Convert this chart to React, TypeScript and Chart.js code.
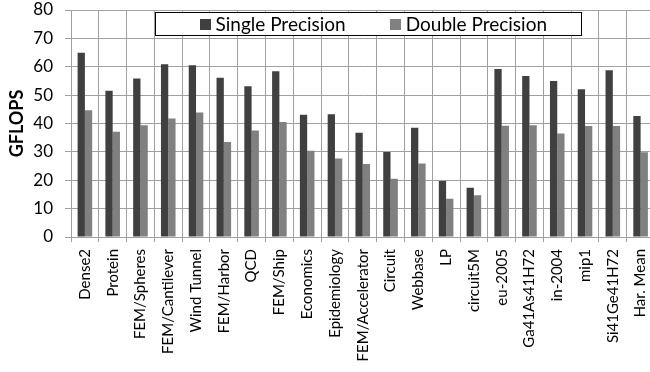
import React, { useEffect, useRef } from "react";
import { Chart, registerables } from "chart.js";

Chart.register(...registerables);

const categories = [
  "Dense2", "Protein", "FEM/Spheres", "FEM/Cantilever", "Wind Tunnel", "FEM/Harbor",
  "QCD", "FEM/Ship", "Economics", "Epidemiology", "FEM/Accelerator", "Circuit",
  "Webbase", "LP", "circuit5M", "eu-2005", "Ga41As41H72", "in-2004", "mip1",
  "Si41Ge41H72", "Har. Mean",
];

const singlePrecision = [
  64.9, 51.5, 55.9, 60.9, 60.5, 56.1, 53.1, 58.4, 43.1, 43.3, 36.7, 30.0,
  38.5, 19.7, 17.4, 59.2, 56.7, 55.0, 52.1, 58.8, 42.6,
];

const doublePrecision = [
  44.7, 37.1, 39.4, 41.8, 43.9, 33.5, 37.5, 40.5, 30.4, 27.7, 25.7, 20.5,
  25.9, 13.5, 14.7, 39.2, 39.4, 36.5, 39.1, 39.1, 29.9,
];

const seriesNames = ["Single Precision", "Double Precision"];
const seriesColors = ["#404040", "#808080"];

const yMin = 0;
const yMax = 80;
const yStep = 10;
const yTitle = "GFLOPS";

const FONT = "Lato";
const GRID = "#a0a0a0";

const boxLegend = {
  id: "boxLegend",
  afterDraw(chart: any) {
    const { ctx, chartArea } = chart;
    ctx.save();
    ctx.font = `19px ${FONT}`;
    const items = chart.data.datasets.map((ds: any) => ({
      label: ds.label,
      color: ds.backgroundColor,
      w: ctx.measureText(ds.label).width,
    }));
    const sq = 11, gap = 5, itemGap = 44, padL = 44, padR = 34, h = 23;
    const contentW =
      items.reduce((s: number, it: any) => s + sq + gap + it.w, 0) +
      itemGap * (items.length - 1);
    const boxW = Math.round(padL + contentW + padR);
    const left = Math.round(chartArea.left + 84) + 0.5;
    const top = Math.round(chartArea.top + 2) + 0.5;
    ctx.fillStyle = "#ffffff";
    ctx.fillRect(left, top, boxW, h);
    ctx.strokeStyle = "#000000";
    ctx.lineWidth = 1;
    ctx.strokeRect(left, top, boxW, h);
    let x = left + padL;
    const cy = top + h / 2;
    ctx.textBaseline = "middle";
    ctx.textAlign = "left";
    items.forEach((it: any) => {
      ctx.fillStyle = it.color;
      ctx.fillRect(Math.round(x), Math.round(cy - 5.5), sq, sq);
      x += sq + gap;
      ctx.fillStyle = "#000000";
      ctx.fillText(it.label, x, cy + 1);
      x += it.w + itemGap;
    });
    ctx.restore();
  },
};

export default function App() {
  const ref = useRef<HTMLCanvasElement | null>(null);

  useEffect(() => {
    if (!ref.current) return;
    const chart = new Chart(ref.current, {
      type: "bar",
      data: {
        labels: categories,
        datasets: [
          {
            label: seriesNames[0],
            data: singlePrecision,
            backgroundColor: seriesColors[0],
            borderWidth: 0,
            categoryPercentage: 0.525,
            barPercentage: 1,
          },
          {
            label: seriesNames[1],
            data: doublePrecision,
            backgroundColor: seriesColors[1],
            borderWidth: 0,
            categoryPercentage: 0.525,
            barPercentage: 1,
          },
        ],
      },
      options: {
        responsive: false,
        animation: false,
        devicePixelRatio: 1,
        layout: { padding: { top: 10, right: 7.5, left: 0, bottom: 0 } },
        plugins: {
          legend: { display: false },
          tooltip: { enabled: false },
        },
        scales: {
          x: {
            offset: true,
            grid: {
              offset: true,
              color: GRID,
              lineWidth: 1,
              drawTicks: true,
              tickLength: 5,
            },
            border: { color: GRID, width: 1 },
            ticks: {
              autoSkip: false,
              minRotation: 90,
              maxRotation: 90,
              padding: 7,
              color: "#000",
              font: { family: FONT, size: 15 },
            },
            afterFit(scale: any) {
              scale.height = 135;
              scale.paddingLeft = 0;
              scale.paddingRight = 0;
            },
          },
          y: {
            min: yMin,
            max: yMax,
            grid: {
              color: GRID,
              lineWidth: 1,
              drawTicks: true,
              tickLength: 6,
            },
            border: { color: GRID, width: 1 },
            ticks: {
              stepSize: yStep,
              padding: 12,
              color: "#000",
              font: { family: FONT, size: 17 },
            },
            title: {
              display: true,
              text: yTitle,
              color: "#000",
              font: { family: FONT, size: 18, weight: "bold" },
              padding: { top: 6, bottom: 0 },
            },
            afterFit(scale: any) {
              scale.width = 71;
              scale.paddingTop = 0;
              scale.paddingBottom = 0;
            },
          },
        },
      },
      plugins: [boxLegend],
    });
    return () => chart.destroy();
  }, []);

  return (
    <div
      style={{
        position: "fixed",
        left: 0,
        top: 0,
        width: 650,
        height: 372,
        overflow: "hidden",
        background: "#fff",
      }}
    >
      <canvas ref={ref} width={662} height={372} style={{ display: "block" }} />
    </div>
  );
}
